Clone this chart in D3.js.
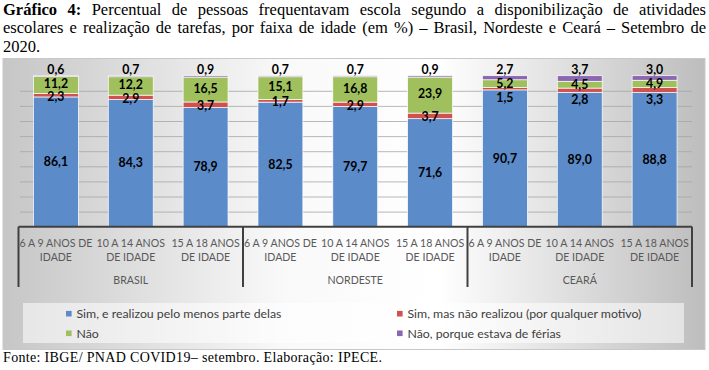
<!DOCTYPE html>
<html>
<head>
<meta charset="utf-8">
<script src="https://cdn.jsdelivr.net/npm/d3@7"></script>
<style>
  body { margin: 0; background: #fff; }
  svg { display: block; }
</style>
</head>
<body>
<div id="chart"></div>
<script>
// ---- data ----
const titleLine1Bold = ['Gráfico', '4:']
const titleLine1 = 'Percentual de pessoas frequentavam escola segundo a disponibilização de atividades'
const titleLine2 = 'escolares e realização de tarefas, por faixa de idade (em %) – Brasil, Nordeste e Ceará – Setembro de'
const titleLine3 = '2020.'
const sourceText = 'Fonte: IBGE/ PNAD COVID19– setembro. Elaboração: IPECE.'

const regions = ['BRASIL', 'NORDESTE', 'CEARÁ']
const ageGroups = [['6 A 9 ANOS DE', 'IDADE'], ['10 A 14 ANOS', 'DE IDADE'], ['15 A 18 ANOS', 'DE IDADE']]
const seriesNames = [
    'Sim, e realizou pelo menos parte delas',
    'Sim, mas não realizou (por qualquer motivo)',
    'Não',
    'Não, porque estava de férias'
]
const simRealizou    = [86.1, 84.3, 78.9, 82.5, 79.7, 71.6, 90.7, 89.0, 88.8]
const simNaoRealizou = [2.3, 2.9, 3.7, 1.7, 2.9, 3.7, 1.5, 2.8, 3.3]
const nao            = [11.2, 12.2, 16.5, 15.1, 16.8, 23.9, 5.2, 4.5, 4.9]
const ferias         = [0.6, 0.7, 0.9, 0.7, 0.7, 0.9, 2.7, 3.7, 3.0]

const colors = ['#5b8bc9', '#d0524e', '#9fc05d', '#8a67ae']

// ---- layout ----
const W = 709, H = 370
const plot = { left: 18.5, right: 692, top: 75.7, bottom: 226.7 }
const labelFont = "Lato, 'Open Sans', sans-serif"
const serifFont = "'Times New Roman', 'Liberation Serif', serif"

const svg = d3.select('#chart').append('svg')
    .attr('width', W)
    .attr('height', H)

// background gradient of the chart frame
const defs = svg.append('defs')
const grad = defs.append('linearGradient').attr('id', 'bg')
    .attr('x1', 0).attr('y1', 0).attr('x2', 1).attr('y2', 0)
grad.selectAll('stop')
    .data([[0, '#c6c6c6'], [0.4, '#f9f9f9'], [0.62, '#ffffff'], [1, '#bdbdbd']])
    .enter().append('stop')
    .attr('offset', d => d[0])
    .attr('stop-color', d => d[1])

svg.append('rect')
    .attr('x', 3).attr('y', 58.5)
    .attr('width', 702).attr('height', 291)
    .attr('fill', 'url(#bg)')
    .attr('stroke', '#c8c8c8')
    .attr('stroke-width', 1)

// ---- title (justified lines) ----
function drawLine(words, y, justify, fontSize) {
    const g = svg.append('g')
        .attr('font-family', serifFont)
        .attr('font-size', fontSize)
        .attr('fill', '#000')
    const nodes = words.map(w => g.append('text')
        .attr('y', y)
        .attr('font-weight', w.bold ? 'bold' : 'normal')
        .text(w.t))
    const widths = nodes.map(n => n.node().getComputedTextLength())
    const total = d3.sum(widths)
    const avail = 703
    const minGap = fontSize * 0.25
    let gap = justify ? (avail - total) / (words.length - 1) : minGap
    let scale = 1
    if (gap < minGap) {
        gap = minGap
        scale = avail / (total + minGap * (words.length - 1))
    }
    let x = 0
    nodes.forEach((n, i) => {
        n.attr('x', x)
        x += widths[i] + gap
    })
    g.attr('transform', `translate(3,0) scale(${scale},1)`)
}

const toWords = (s, bold) => s.split(' ').map(t => ({ t, bold }))
drawLine(toWords(titleLine1Bold.join(' '), true).concat(toWords(titleLine1, false)), 15, true, 16.5)
drawLine(toWords(titleLine2, false), 33.3, true, 16.5)
drawLine(toWords(titleLine3, false), 51.7, false, 16.5)

// ---- data table ----
const rows = []
regions.forEach((r, ri) => {
    ageGroups.forEach((a, ai) => {
        const i = ri * ageGroups.length + ai
        rows.push({
            key: r + '|' + ai, region: r, age: a,
            s0: simRealizou[i], s1: simNaoRealizou[i], s2: nao[i], s3: ferias[i]
        })
    })
})

const x = d3.scaleBand()
    .domain(rows.map(d => d.key))
    .range([plot.left, plot.right])
    .paddingInner(0.4)
    .paddingOuter(0.2)

const y = d3.scaleLinear()
    .domain([0, 1])
    .range([plot.bottom, plot.top])

// gridlines
svg.append('g')
    .attr('transform', `translate(${plot.left + 1.5},0)`)
    .call(d3.axisLeft(y).ticks(10).tickSize(-(plot.right - plot.left - 1.5)).tickFormat(''))
    .call(g => g.select('.domain').remove())
    .call(g => g.selectAll('.tick line').attr('stroke', '#a6a6a6').attr('stroke-width', 0.8))
    .call(g => g.selectAll('.tick').filter(d => d === 0 || d === 1).remove())

const stack = d3.stack()
    .keys(['s0', 's1', 's2', 's3'])
    .offset(d3.stackOffsetExpand)
const series = stack(rows)

svg.append('g')
    .selectAll('g')
    .data(series).enter()
    .append('g')
    .attr('fill', (d, i) => colors[i])
    .selectAll('rect')
    .data(d => d).enter()
    .append('rect')
    .attr('x', d => x(d.data.key))
    .attr('width', x.bandwidth())
    .attr('y', d => y(d[1]))
    .attr('height', d => y(d[0]) - y(d[1]))
    .attr('stroke', '#ffffff')
    .attr('stroke-width', 0.7)

// data labels
const fmt = d3.formatLocale({ decimal: ',', thousands: '.', grouping: [3], currency: ['R$', ''] }).format('.1f')
const labels = svg.append('g')
    .attr('font-family', labelFont)
    .attr('font-weight', 'bold')
    .attr('font-size', 12.3)
    .attr('fill', '#000')
    .attr('text-anchor', 'middle')

series.forEach((s, si) => {
    labels.selectAll(null)
        .data(s).enter()
        .append('text')
        .attr('x', d => x(d.data.key) + x.bandwidth() / 2)
        .attr('y', d => {
            const top = y(d[1]), bot = y(d[0])
            let cy = (top + bot) / 2
            if (si === 3) cy = top - 6.5
            if (si === 2 && d.data.s2 >= 8) cy -= 1
            if (si === 1 && d.data.s2 >= 8) cy += 1
            if (si === 1 && d.data.s2 < 8) cy = bot + 7.5
            return cy
        })
        .attr('dy', '0.35em')
        .text(d => fmt(d.data[s.key]))
})

// x axis line and category separators
const axisG = svg.append('g')
    .attr('stroke', '#404040')
    .attr('stroke-width', 2)
axisG.append('line')
    .attr('x1', plot.left).attr('x2', plot.right)
    .attr('y1', plot.bottom).attr('y2', plot.bottom)

const step = x.step()
const groupEdges = d3.range(regions.length + 1).map(i => plot.left + i * ageGroups.length * step)
axisG.selectAll(null)
    .data(groupEdges).enter()
    .append('line')
    .attr('x1', d => d).attr('x2', d => d)
    .attr('y1', plot.bottom).attr('y2', 287)

// category labels
const catG = svg.append('g')
    .attr('font-family', labelFont)
    .attr('font-size', 10.6)
    .attr('fill', '#595959')
    .attr('text-anchor', 'middle')

rows.forEach(d => {
    const cx = x(d.key) + x.bandwidth() / 2
    d.age.forEach((line, li) => {
        catG.append('text')
            .attr('x', cx)
            .attr('y', 247 + li * 13.8)
            .text(line)
    })
})

regions.forEach((r, i) => {
    catG.append('text')
        .attr('x', (groupEdges[i] + groupEdges[i + 1]) / 2)
        .attr('y', 284)
        .text(r)
})

// legend
svg.append('rect')
    .attr('x', 23).attr('y', 303)
    .attr('width', 661).attr('height', 40)
    .attr('fill', '#ffffff')
    .attr('fill-opacity', 0.55)

const legendPos = [[66, 313.7], [397, 313.7], [66, 333.3], [397, 333.3]]
const legend = svg.append('g')
    .attr('font-family', labelFont)
    .attr('font-size', 12.3)
    .attr('fill', '#404040')
    .selectAll('g')
    .data(seriesNames).enter()
    .append('g')
    .attr('transform', (d, i) => `translate(${legendPos[i][0]},${legendPos[i][1]})`)

legend.append('rect')
    .attr('x', 0).attr('y', -2.8)
    .attr('width', 5.6).attr('height', 5.6)
    .attr('fill', (d, i) => colors[i])

legend.append('text')
    .attr('x', 10.5)
    .attr('dy', '0.35em')
    .text(d => d)

// source
svg.append('text')
    .attr('x', 3)
    .attr('y', 362)
    .attr('font-family', serifFont)
    .attr('font-size', 14)
    .attr('textLength', 379)
    .attr('lengthAdjust', 'spacing')
    .text(sourceText)
</script>
</body>
</html>
